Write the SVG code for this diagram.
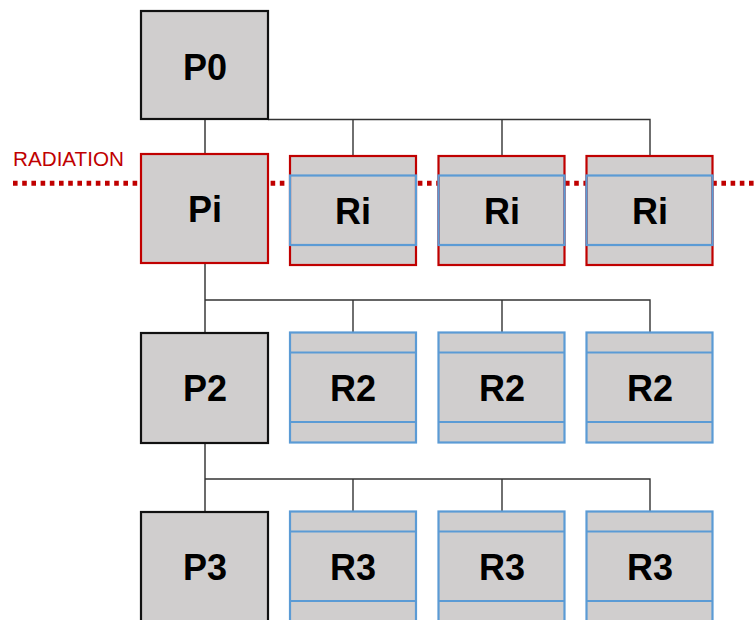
<svg xmlns="http://www.w3.org/2000/svg" width="754" height="620" viewBox="0 0 754 620">
<style>
.box{fill:#D0CECE;stroke-width:2.2}
.p{stroke:#111}
.red{stroke:#C00000}
.blue{fill:#D0CECE;stroke:#5B9BD5;stroke-width:2.2}
.band{fill:none;stroke:#5B9BD5;stroke-width:2.2}
.lbl{font-family:"Liberation Sans",Arial,sans-serif;font-weight:bold;font-size:36px;fill:#000;text-anchor:middle}
.con{stroke:#333;stroke-width:1.4;fill:none}
.trunk{stroke:#6b6b6b;stroke-width:2;fill:none}
</style>
<rect width="754" height="620" fill="#fff"/>
<g id="connectors">
<line class="trunk" x1="205" y1="119" x2="205" y2="512"/>
<polyline class="con" points="268,119.5 650,119.5 650,156"/>
<line class="con" x1="353" y1="119.5" x2="353" y2="156"/>
<line class="con" x1="502" y1="119.5" x2="502" y2="156"/>
<polyline class="con" points="205,300 650,300 650,333"/>
<line class="con" x1="353" y1="300" x2="353" y2="333"/>
<line class="con" x1="502" y1="300" x2="502" y2="333"/>
<polyline class="con" points="205,479 650,479 650,512"/>
<line class="con" x1="353" y1="479" x2="353" y2="512"/>
<line class="con" x1="502" y1="479" x2="502" y2="512"/>
</g>
<g id="radiation">
<line x1="13" y1="183.3" x2="754" y2="183.3" stroke="#C00000" stroke-width="5" stroke-dasharray="4.6 4.6"/>
<text x="13" y="166" font-family="'Liberation Sans',Arial,sans-serif" font-size="20.5" fill="#C00000" textLength="111" lengthAdjust="spacingAndGlyphs">RADIATION</text>
</g>
<g id="P0"><rect class="box p" x="141" y="11" width="127" height="108"/><text class="lbl" x="205" y="80">P0</text></g>
<g id="Pi"><rect class="box red" x="141" y="154" width="127" height="109"/><text class="lbl" x="205" y="222">Pi</text></g>
<g id="Ri1"><rect class="box red" x="290" y="156" width="126" height="109"/><rect class="band" x="290" y="175.5" width="126" height="69.5"/><text class="lbl" x="353" y="224">Ri</text></g>
<g id="Ri2"><rect class="box red" x="438.5" y="156" width="126" height="109"/><rect class="band" x="438.5" y="175.5" width="126" height="69.5"/><text class="lbl" x="502" y="224">Ri</text></g>
<g id="Ri3"><rect class="box red" x="586.5" y="156" width="126" height="109"/><rect class="band" x="586.5" y="175.5" width="126" height="69.5"/><text class="lbl" x="650" y="224">Ri</text></g>
<g id="P2"><rect class="box p" x="141" y="333" width="127" height="110"/><text class="lbl" x="205" y="401">P2</text></g>
<g id="R2a"><rect class="blue" x="290" y="332.5" width="126" height="110"/><line class="band" x1="290" y1="352.5" x2="416" y2="352.5"/><line class="band" x1="290" y1="422" x2="416" y2="422"/><text class="lbl" x="353" y="401">R2</text></g>
<g id="R2b"><rect class="blue" x="438.5" y="332.5" width="126" height="110"/><line class="band" x1="438.5" y1="352.5" x2="564.5" y2="352.5"/><line class="band" x1="438.5" y1="422" x2="564.5" y2="422"/><text class="lbl" x="502" y="401">R2</text></g>
<g id="R2c"><rect class="blue" x="586.5" y="332.5" width="126" height="110"/><line class="band" x1="586.5" y1="352.5" x2="712.5" y2="352.5"/><line class="band" x1="586.5" y1="422" x2="712.5" y2="422"/><text class="lbl" x="650" y="401">R2</text></g>
<g id="P3"><rect class="box p" x="141" y="512" width="127" height="120"/><text class="lbl" x="205" y="580">P3</text></g>
<g id="R3a"><rect class="blue" x="290" y="511.5" width="126" height="120"/><line class="band" x1="290" y1="531.5" x2="416" y2="531.5"/><line class="band" x1="290" y1="601" x2="416" y2="601"/><text class="lbl" x="353" y="580">R3</text></g>
<g id="R3b"><rect class="blue" x="438.5" y="511.5" width="126" height="120"/><line class="band" x1="438.5" y1="531.5" x2="564.5" y2="531.5"/><line class="band" x1="438.5" y1="601" x2="564.5" y2="601"/><text class="lbl" x="502" y="580">R3</text></g>
<g id="R3c"><rect class="blue" x="586.5" y="511.5" width="126" height="120"/><line class="band" x1="586.5" y1="531.5" x2="712.5" y2="531.5"/><line class="band" x1="586.5" y1="601" x2="712.5" y2="601"/><text class="lbl" x="650" y="580">R3</text></g>
</svg>
